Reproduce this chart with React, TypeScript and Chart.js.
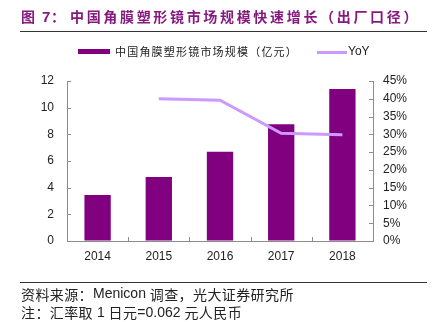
import React, { useEffect, useRef } from "react";
import { Chart, registerables } from "chart.js";

Chart.register(...registerables);

const titlePrefix = "图";
const titleNumber = "7";
const titleColon = "：";
const titleMain = "中国角膜塑形镜市场规模快速增长（出厂口径）";
const sourceText = "资料来源：Menicon 调查，光大证券研究所";
const noteText = "注：汇率取 1 日元=0.062 元人民币";
const barLabel = "中国角膜塑形镜市场规模（亿元）";
const lineLabel = "YoY";

const years = ["2014", "2015", "2016", "2017", "2018"];
const marketSize = [3.45, 4.8, 6.7, 8.75, 11.4];
const yoyPct = [null, 40.0, 39.6, 30.3, 29.9];

const BAR_COLOR = "#800080";
const LINE_COLOR = "#CC99FF";
const AXIS_COLOR = "#8c8c8c";
const TEXT_COLOR = "#222222";
const TITLE_COLOR = "#86197f";
const LATIN = "'Liberation Sans', Arial, sans-serif";
const CJK = "'Noto Sans CJK SC', sans-serif";

// draw mixed CJK / Latin text, ASCII runs in the Latin font
function drawMixed(ctx: CanvasRenderingContext2D, text: string, x: number, y: number, size: number, cjkSpacing: number) {
  const runs = text.match(/[\x00-\x7F]+|[^\x00-\x7F]+/g) || [];
  let cx = x;
  for (const r of runs) {
    const ascii = /^[\x00-\x7F]+$/.test(r);
    ctx.font = `${size}px ${ascii ? LATIN : CJK}`;
    (ctx as any).letterSpacing = ascii ? "0px" : `${cjkSpacing}px`;
    ctx.fillText(r, cx, y);
    cx += ctx.measureText(r).width;
  }
  (ctx as any).letterSpacing = "0px";
}

const decorPlugin = {
  id: "decor",
  afterDraw(chart: any) {
    const ctx = chart.ctx as CanvasRenderingContext2D;
    const { left, right, bottom } = chart.chartArea;
    const xs = chart.scales.x;
    const ys = chart.scales.y;
    const ys1 = chart.scales.y1;
    ctx.save();

    // inner tick marks
    ctx.strokeStyle = AXIS_COLOR;
    ctx.lineWidth = 1;
    ctx.beginPath();
    ys.ticks.forEach((t: any) => {
      const y = Math.round(ys.getPixelForValue(t.value)) + 0.5;
      ctx.moveTo(left, y);
      ctx.lineTo(left + 4, y);
    });
    ys1.ticks.forEach((t: any) => {
      const y = Math.round(ys1.getPixelForValue(t.value)) + 0.5;
      ctx.moveTo(right, y);
      ctx.lineTo(right - 4, y);
    });
    for (let i = 1; i < years.length; i++) {
      const x = Math.round((xs.getPixelForValue(i - 1) + xs.getPixelForValue(i)) / 2) + 0.5;
      ctx.moveTo(x, bottom);
      ctx.lineTo(x, bottom - 4);
    }
    ctx.stroke();

    // title
    ctx.fillStyle = TITLE_COLOR;
    ctx.textBaseline = "middle";
    ctx.textAlign = "left";
    ctx.font = `bold 14px ${CJK}`;
    ctx.fillText(titlePrefix, 21, 17);
    ctx.font = `bold 15px ${LATIN}`;
    ctx.fillText(titleNumber, 42, 17.5);
    ctx.font = `bold 14px ${CJK}`;
    ctx.fillText(titleColon, 51, 17);
    (ctx as any).letterSpacing = "2.67px";
    ctx.fillText(titleMain, 70, 17);
    (ctx as any).letterSpacing = "0px";

    // separator lines
    ctx.strokeStyle = "#333333";
    ctx.lineWidth = 1;
    ctx.beginPath();
    ctx.moveTo(20, 31.5);
    ctx.lineTo(427, 31.5);
    ctx.moveTo(20, 282.5);
    ctx.lineTo(427, 282.5);
    ctx.stroke();

    // legend
    ctx.fillStyle = BAR_COLOR;
    ctx.fillRect(78, 49, 32, 5);
    ctx.fillStyle = TEXT_COLOR;
    ctx.font = `11px ${CJK}`;
    (ctx as any).letterSpacing = "1.2px";
    ctx.fillText(barLabel, 115, 52);
    (ctx as any).letterSpacing = "0px";
    ctx.strokeStyle = LINE_COLOR;
    ctx.lineWidth = 3;
    ctx.beginPath();
    ctx.moveTo(317, 52.5);
    ctx.lineTo(347, 52.5);
    ctx.stroke();
    ctx.fillStyle = TEXT_COLOR;
    ctx.font = `12px ${LATIN}`;
    ctx.fillText(lineLabel, 348, 52);

    // footer
    ctx.fillStyle = "#222222";
    drawMixed(ctx, sourceText, 21, 294.5, 14, 0.4);
    drawMixed(ctx, noteText, 21, 313, 14, 0.4);
    ctx.restore();
  },
};

export default function App() {
  const ref = useRef<HTMLCanvasElement | null>(null);
  useEffect(() => {
    if (!ref.current) return;
    const chart = new Chart(ref.current, {
      type: "bar",
      data: {
        labels: years,
        datasets: [
          {
            type: "line",
            label: lineLabel,
            data: yoyPct as any,
            yAxisID: "y1",
            borderColor: LINE_COLOR,
            backgroundColor: LINE_COLOR,
            borderWidth: 3,
            pointRadius: 0,
            tension: 0,
            order: 0,
          } as any,
          {
            type: "bar",
            label: barLabel,
            data: marketSize,
            yAxisID: "y",
            backgroundColor: BAR_COLOR,
            barPercentage: 0.43,
            categoryPercentage: 1,
            order: 1,
          },
        ],
      },
      options: {
        responsive: false,
        animation: false,
        devicePixelRatio: 1,
        layout: { padding: { top: 81, left: 0, right: 0, bottom: 0 } },
        plugins: { legend: { display: false }, tooltip: { enabled: false }, title: { display: false } },
        scales: {
          x: {
            grid: { display: true, drawOnChartArea: false, drawTicks: false },
            border: { display: true, color: AXIS_COLOR, width: 1 },
            ticks: { color: TEXT_COLOR, font: { family: LATIN, size: 12 }, padding: 8 },
            afterFit: (s: any) => { s.height = 81; },
          },
          y: {
            position: "left",
            min: 0,
            max: 12,
            ticks: { stepSize: 2, color: TEXT_COLOR, font: { family: LATIN, size: 12 }, padding: 13 },
            grid: { display: true, drawOnChartArea: false, drawTicks: false },
            border: { display: true, color: AXIS_COLOR, width: 1 },
            afterFit: (s: any) => { s.width = 67; },
          },
          y1: {
            position: "right",
            min: 0,
            max: 45,
            ticks: {
              stepSize: 5,
              color: TEXT_COLOR,
              font: { family: LATIN, size: 12 },
              padding: 10,
              callback: (v: any) => `${v}%`,
            },
            grid: { display: true, drawOnChartArea: false, drawTicks: false },
            border: { display: true, color: AXIS_COLOR, width: 1 },
            afterFit: (s: any) => { s.width = 67; },
          },
        },
      },
      plugins: [decorPlugin],
    });
    return () => chart.destroy();
  }, []);
  return (
    <div style={{ position: "fixed", left: 0, top: 0, width: 440, height: 322, background: "#fff" }}>
      <canvas ref={ref} width={440} height={322} style={{ display: "block" }} />
    </div>
  );
}
